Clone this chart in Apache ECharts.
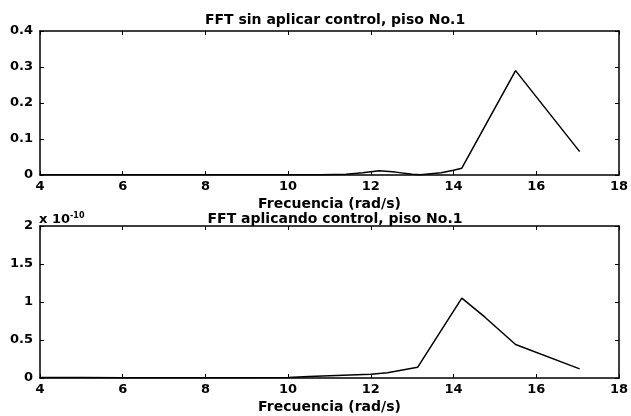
<!DOCTYPE html>
<html>
<head>
<meta charset="utf-8">
<script src="https://cdn.jsdelivr.net/npm/echarts@6/dist/echarts.min.js"></script>
<style>
  html, body { margin: 0; padding: 0; background: #fff; }
  #chart { width: 631px; height: 416px; }
</style>
</head>
<body>
<div id="chart"></div>
<script>
// Frequency axis (rad/s), shared by both panels
const xTicks = [4, 6, 8, 10, 12, 14, 16, 18];

// Panel 1: FFT without control, floor 1
const freqSinControl = [4.0, 5.0, 6.0, 7.0, 8.0, 9.0, 10.0, 10.8, 11.4, 11.8, 12.2, 12.6, 13.0, 13.2, 13.7, 14.0, 14.2, 15.5, 17.05];
const ampSinControl  = [0.0005, 0.0005, 0.0005, 0.0005, 0.0005, 0.0005, 0.001, 0.001, 0.002, 0.006, 0.012, 0.008, 0.002, 0.001, 0.006, 0.013, 0.019, 0.29, 0.065];
const yTicksSup = [0, 0.1, 0.2, 0.3, 0.4];

// Panel 2: FFT with control, floor 1 (amplitudes in absolute units)
const freqConControl = [4.0, 5.0, 6.0, 7.0, 8.0, 9.0, 10.0, 10.5, 11.0, 11.5, 12.0, 12.4, 12.8, 13.13, 14.2, 14.76, 15.5, 17.05];
const ampConControl  = [0.005e-10, 0.005e-10, 0.003e-10, 0.003e-10, 0.003e-10, 0.003e-10, 0.005e-10, 0.02e-10, 0.03e-10, 0.04e-10, 0.05e-10, 0.07e-10, 0.11e-10, 0.14e-10, 1.05e-10, 0.8e-10, 0.44e-10, 0.12e-10];
const yTicksInf = [0, 0.5e-10, 1e-10, 1.5e-10, 2e-10];
const escalaInf = 1e-10;

const FONT = '"DejaVu Sans", Arial, sans-serif';
const tickStyle = { color: '#000', fontFamily: FONT, fontSize: 13, fontWeight: 'bold' };
const textStyle = { color: '#000', fontFamily: FONT, fontSize: 14, fontWeight: 'bold' };

function fmtNum(v) {
  return String(parseFloat(v.toFixed(2)));
}

function xAxes(gridIndex) {
  const base = {
    type: 'value', gridIndex: gridIndex,
    min: xTicks[0], max: xTicks[xTicks.length - 1], interval: 2,
    axisLine: { show: true, onZero: false, lineStyle: { color: '#000', width: 1.5 } },
    axisTick: { show: true, inside: true, length: 4, lineStyle: { color: '#000', width: 1 } },
    splitLine: { show: false }
  };
  return [
    Object.assign({}, base, {
      position: 'bottom',
      axisLabel: Object.assign({ margin: 5, formatter: v => String(v) }, tickStyle),
      name: 'Frecuencia (rad/s)', nameLocation: 'middle', nameGap: 22,
      nameTextStyle: Object.assign({}, textStyle)
    }),
    Object.assign({}, base, { position: 'top', axisLabel: { show: false } })
  ];
}

function yAxes(gridIndex, ticks, scale) {
  const base = {
    type: 'value', gridIndex: gridIndex,
    min: ticks[0], max: ticks[ticks.length - 1], interval: ticks[1] - ticks[0],
    axisLine: { show: true, onZero: false, lineStyle: { color: '#000', width: 1.5 } },
    axisTick: { show: true, inside: true, length: 4, lineStyle: { color: '#000', width: 1 } },
    splitLine: { show: false }
  };
  return [
    Object.assign({}, base, {
      position: 'left',
      axisLabel: Object.assign({ margin: 7, formatter: v => fmtNum(v / scale) }, tickStyle)
    }),
    Object.assign({}, base, { position: 'right', axisLabel: { show: false } })
  ];
}

const chart = echarts.init(document.getElementById('chart'), null, { renderer: 'canvas' });

chart.setOption({
  backgroundColor: '#fff',
  animation: false,
  title: [
    { text: 'FFT sin aplicar control, piso No.1', left: 330, top: 8, textAlign: 'center',
      textStyle: Object.assign({}, textStyle) },
    { text: 'FFT aplicando control, piso No.1', left: 330, top: 207, textAlign: 'center',
      textStyle: Object.assign({}, textStyle) }
  ],
  grid: [
    { left: 40, right: 10, top: 31, height: 144 },
    { left: 40, right: 10, top: 226, height: 152 }
  ],
  xAxis: xAxes(0).concat(xAxes(1)),
  yAxis: yAxes(0, yTicksSup, 1).concat(yAxes(1, yTicksInf, escalaInf)),
  series: [
    {
      type: 'line', xAxisIndex: 0, yAxisIndex: 0,
      data: freqSinControl.map((f, i) => [f, ampSinControl[i]]),
      showSymbol: false, lineStyle: { color: '#000', width: 1.5 }
    },
    {
      type: 'line', xAxisIndex: 2, yAxisIndex: 2,
      data: freqConControl.map((f, i) => [f, ampConControl[i]]),
      showSymbol: false, lineStyle: { color: '#000', width: 1.5 }
    }
  ],
  graphic: [
    {
      type: 'text', left: 39, top: 212,
      style: {
        text: '{b|x 10}{s|-10}',
        rich: {
          b: { fontFamily: FONT, fontSize: 13, fontWeight: 'bold', fill: '#000' },
          s: { fontFamily: FONT, fontSize: 8, fontWeight: 'bold', fill: '#000', verticalAlign: 'top', padding: [0, 0, 7, 0] }
        }
      }
    }
  ]
});
</script>
</body>
</html>
